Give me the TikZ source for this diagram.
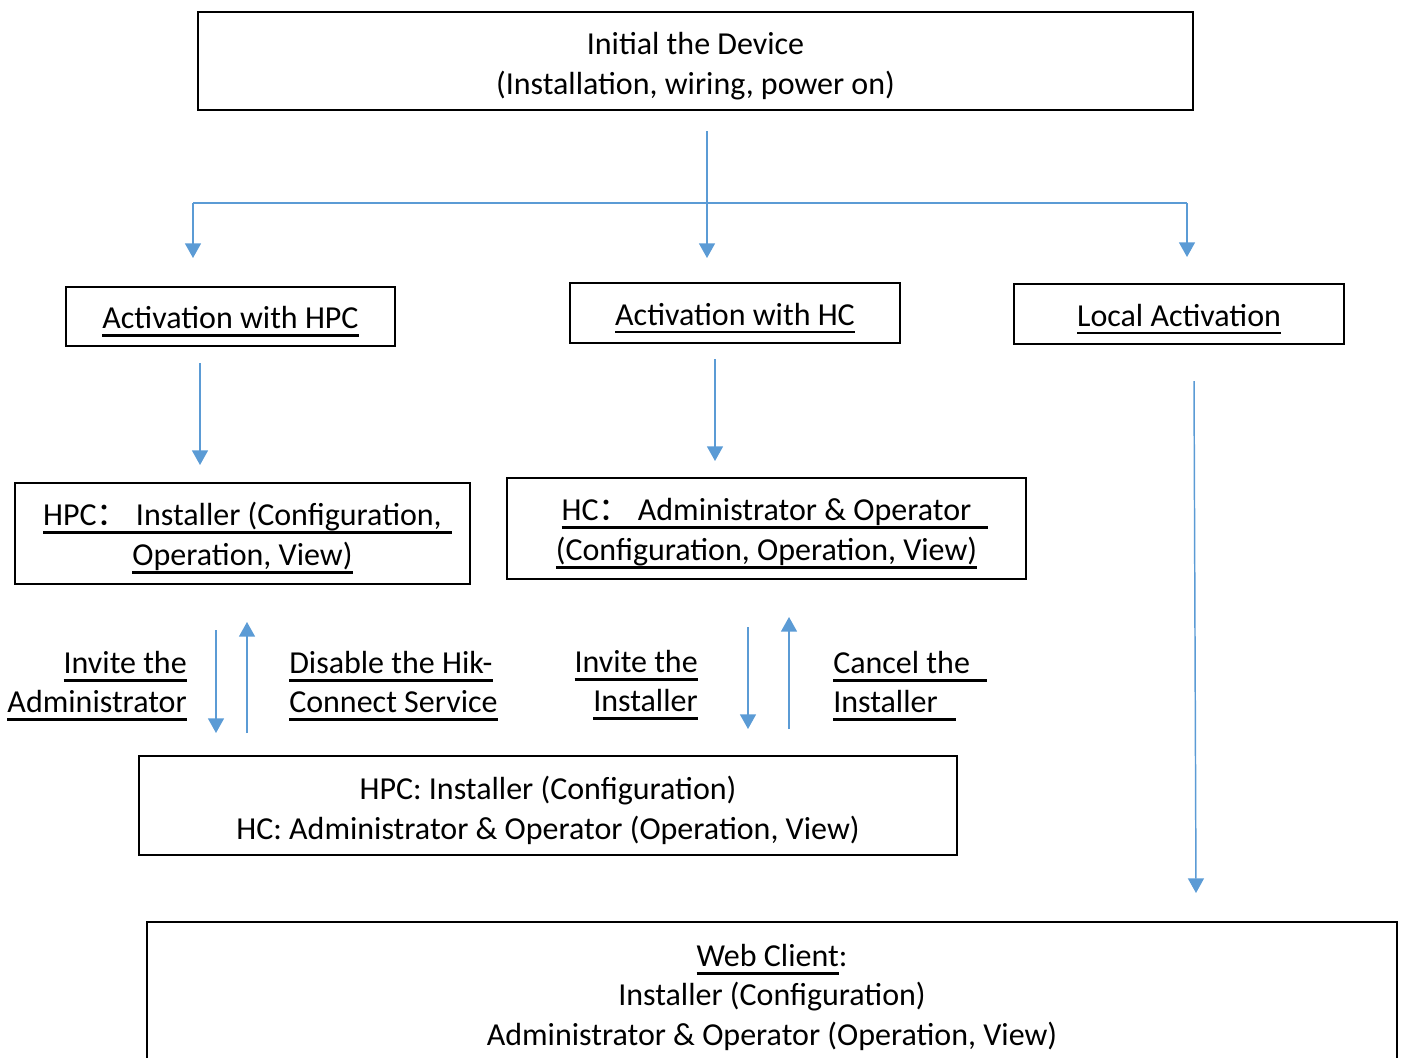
\documentclass[tikz,border=0pt]{standalone}
\usepackage{fontspec}
\setmainfont{Carlito}
\newfontfamily\cjk{Noto Sans CJK SC}
\usetikzlibrary{arrows.meta}
\definecolor{linkblue}{RGB}{91,155,213}
% thick underline, kept at a fixed distance under the baseline;
% the optional length lets it run on past the words
\newcommand{\ulbar}[2][0pt]{\leavevmode\setbox0\hbox{#2}\dp0=0pt%
  \vtop{\offinterlineskip\copy0\kern4pt\hbox to \wd0{\vrule width \dimexpr\wd0+#1\relax height 2.2pt depth 0pt\hss}}}
% taller first line, so the words sit a little lower in the box
\newcommand{\lift}{\rule{0pt}{24.5pt}}

\begin{document}
\begin{tikzpicture}[x=0.75pt,y=-0.75pt,
  box/.style={draw,line width=1.2pt,align=center,inner sep=0pt,font=\fontsize{24}{29.6}\selectfont},
  lbl/.style={align=#1,inner sep=0pt,font=\fontsize{24}{29.6}\selectfont},
  arr/.style={draw=linkblue,line width=1.1pt,-{Triangle[width=12pt,length=11pt]}}]
\clip (0,0) rectangle (1405,1057);
\useasboundingbox (0,0) rectangle (1405,1057);

%Draw top box
\node[box,minimum width=746.25pt,minimum height=73.5pt] (init) at (695.5,61)
  {\lift Initial the Device\\(Installation, wiring, power on)};

%Draw activation boxes
\node[box,minimum width=246.75pt,minimum height=44.25pt] (hpc) at (230.5,316.5) {\lift\ulbar{Activation with HPC}};
\node[box,minimum width=247.5pt,minimum height=45pt] (hc) at (735,313) {\lift\ulbar{Activation with HC}};
\node[box,minimum width=247.5pt,minimum height=45pt] (local) at (1179,314) {\lift\ulbar{Local Activation}};

%Draw role boxes
\node[box,minimum width=341.25pt,minimum height=75.75pt] (hpcrole) at (242.5,533.5)
  {\lift\ulbar[8pt]{HPC{\cjk ：}\ Installer (Configuration,}\\\ulbar{Operation, View)}};
\node[box,minimum width=389.25pt,minimum height=75.75pt] (hcrole) at (766.5,528.5)
  {\lift\ulbar[12.75pt]{HC{\cjk ：}\ Administrator \& Operator}\\\ulbar{(Configuration, Operation, View)}};
\node[box,minimum width=613.5pt,minimum height=74.25pt] (shared) at (548,805.5)
  {\lift HPC: Installer (Configuration)\\HC: Administrator \& Operator (Operation, View)};
\node[box,minimum width=937.5pt,minimum height=105pt] (web) at (772,992)
  {\lift\ulbar{Web Client}:\\Installer (Configuration)\\Administrator \& Operator (Operation, View)};

%Draw switch labels
\node[lbl=right,anchor=east] (inviteadmin) at (187,681) {\lift\ulbar{Invite the}\\\ulbar{Administrator}};
\node[lbl=left,anchor=west] (disable) at (289,681) {\lift\ulbar{Disable the Hik-}\\\ulbar{Connect Service}};
\node[lbl=right,anchor=east] (inviteinst) at (698,680) {\lift\ulbar{Invite the}\\\ulbar{Installer}};
\node[lbl=left,anchor=west] (cancel) at (833,681) {\lift\ulbar[12.75pt]{Cancel the}\\\ulbar[13.5pt]{Installer}};

%Arrow ends
\coordinate (splittop) at (707,131);
\coordinate (splitend) at (707,258);
\coordinate (joinl) at (193,203);
\coordinate (joinr) at (1187,203);
\coordinate (hpcend) at (193,258);
\coordinate (localend) at (1187,257);

%Draw arrows from the top box
\draw[linkblue,line width=1.1pt] (joinl) -- (joinr);
\draw[arr] (splittop) -- (splitend);
\draw[arr] (joinl) -- (hpcend);
\draw[arr] (joinr) -- (localend);

%Draw arrows to the role boxes
\coordinate (hpcfrom) at (200,363);
\coordinate (hpcto) at (200,465);
\coordinate (hcfrom) at (715,359);
\coordinate (hcto) at (715,461);
\coordinate (localfrom) at (1194,381);
\coordinate (localto) at (1196,893);
\draw[arr] (hpcfrom) -- (hpcto);
\draw[arr] (hcfrom) -- (hcto);
\draw[arr] (localfrom) -- (localto);

%Draw switch arrows
\coordinate (adminfrom) at (216,630);
\coordinate (adminto) at (216,733);
\coordinate (disfrom) at (247,733);
\coordinate (disto) at (247,622);
\coordinate (instfrom) at (748,627);
\coordinate (instto) at (748,729);
\coordinate (canfrom) at (789,729);
\coordinate (canto) at (789,617);
\draw[arr] (adminfrom) -- (adminto);
\draw[arr] (disfrom) -- (disto);
\draw[arr] (instfrom) -- (instto);
\draw[arr] (canfrom) -- (canto);
\end{tikzpicture}
\end{document}
